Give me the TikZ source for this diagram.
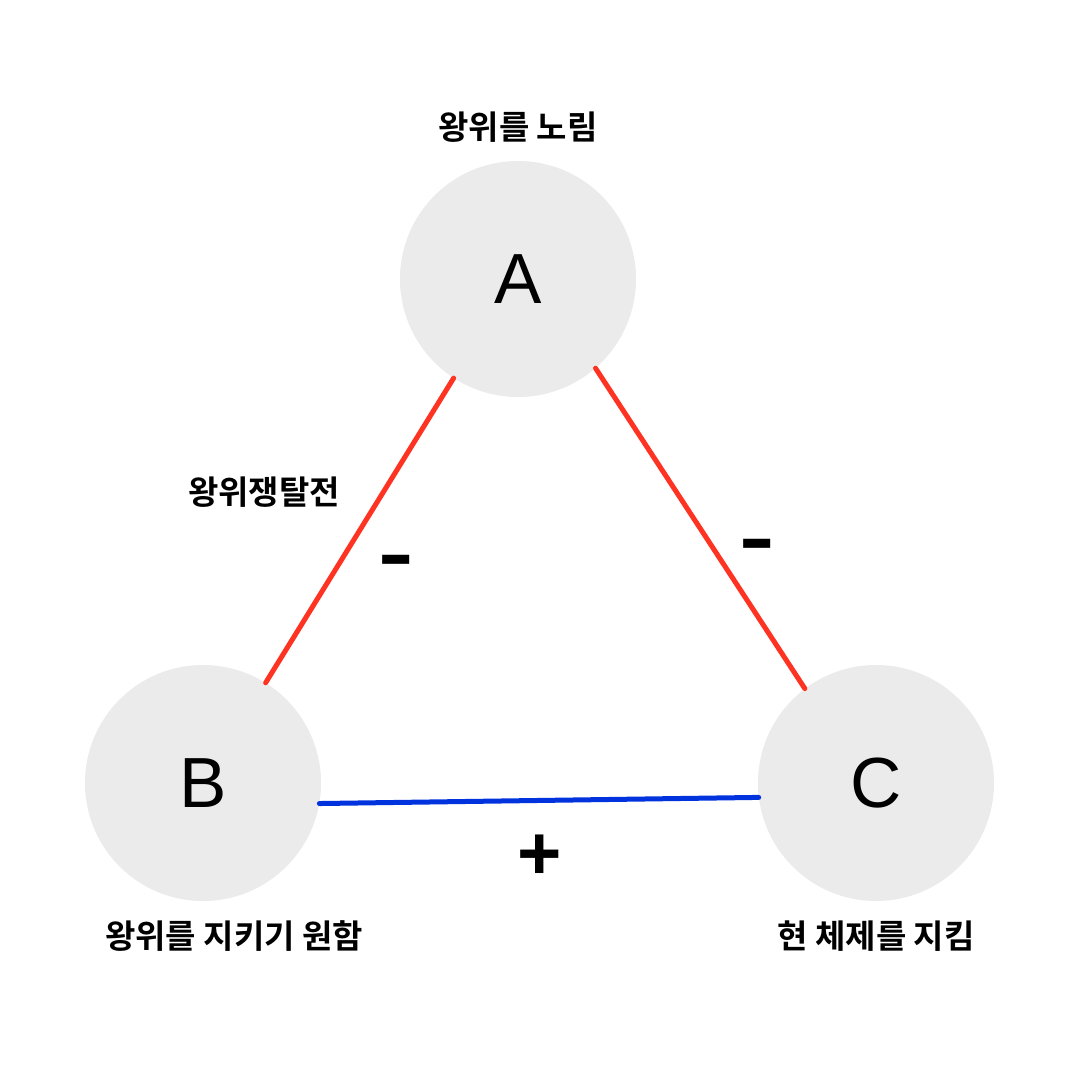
\documentclass[tikz,border=0pt]{standalone}
\usepackage{fontspec}
\setmainfont{Liberation Sans}
\newfontfamily\kor{Noto Sans CJK KR}[BoldFont=* Bold]
\definecolor{circgray}{HTML}{EBEBEB}
\definecolor{negred}{HTML}{FF3322}
\definecolor{posblue}{HTML}{0033DD}
\tikzset{
  party/.style={circle, fill=circgray, draw=none, minimum size=236pt, inner sep=0pt, font=\fontsize{71}{71}\selectfont},
  kortext/.style={font=\kor\bfseries\fontsize{33}{33}\selectfont, inner sep=0pt},
  signtext/.style={font=\bfseries\fontsize{76}{76}\selectfont, inner sep=0pt},
  negline/.style={draw=negred, line width=5pt, line cap=round},
  posline/.style={draw=posblue, line width=5pt, line cap=round}
}
\begin{document}
\begin{tikzpicture}[x=1pt, y=-1pt]
\useasboundingbox[fill=white] (0,0) rectangle (1080,1080);
\node[party] (A) at (518,279) {A};
\node[party] (B) at (203,783) {B};
\node[party] (C) at (876,783) {C};
\draw[negline] (A.237) -- (B.58);
\draw[negline] (A.-49) -- (C.127);
\draw[posline] (B.-10) -- (C.187);
\node[kortext] (la) at (518,127) {왕위를 노림};
\node[kortext] (war) at (264,492) {왕위쟁탈전};
\node[kortext] (lb) at (234,936) {왕위를 지키기 원함};
\node[kortext] (lc) at (876,936) {현 체제를 지킴};
\node[signtext, xscale=1.4] (m1) at (396,567) {-};
\node[signtext, xscale=1.4] (m2) at (757,551) {-};
\node[signtext] (p1) at (540,857) {+};
\end{tikzpicture}
\end{document}
